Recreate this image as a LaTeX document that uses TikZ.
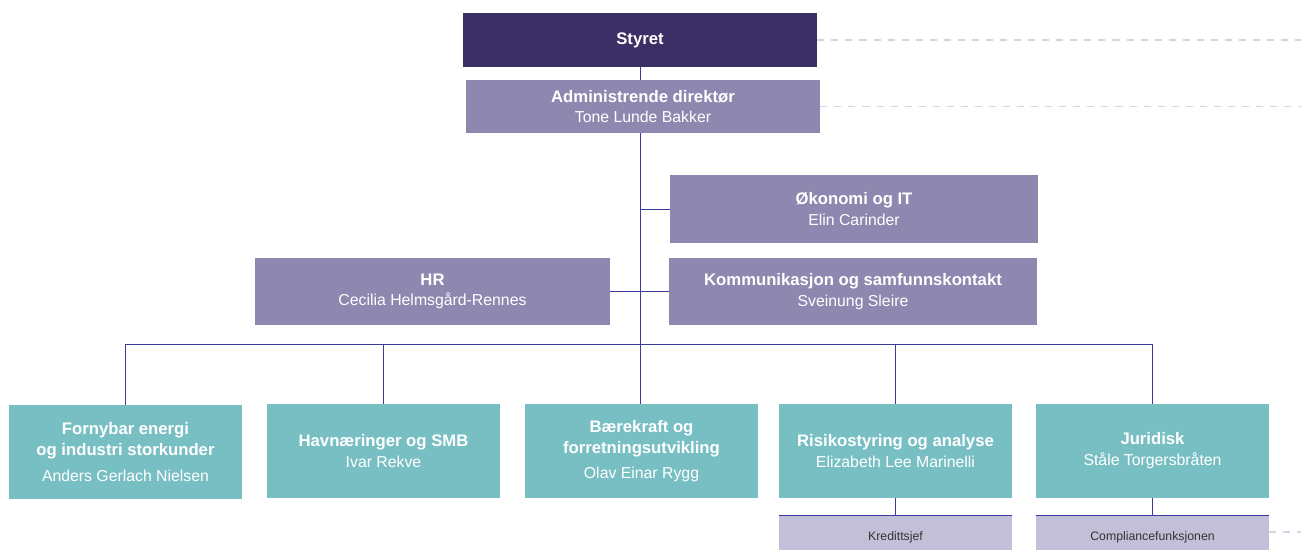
\documentclass[tikz,border=0pt]{standalone}
\usepackage{fontspec}
\setmainfont{Liberation Sans}

\definecolor{boardcol}{HTML}{3B2F66}
\definecolor{staffcol}{HTML}{8E87AF}
\definecolor{unitcol}{HTML}{78BFC4}
\definecolor{subcol}{HTML}{C4BFD9}
\definecolor{linecol}{HTML}{3B3B9C}
\definecolor{guidecol}{HTML}{D5D3E6}

\tikzset{
  board/.style={rectangle, fill=boardcol, text=white, inner sep=0pt, align=center,
    minimum width=7.08cm, minimum height=1.08cm, font=\fontsize{9.5}{11.5}\selectfont\bfseries},
  staff/.style={rectangle, fill=staffcol, text=white, inner sep=0pt, align=center,
    minimum height=1.34cm, font=\fontsize{9}{11.5}\selectfont},
  unit/.style={rectangle, fill=unitcol, text=white, inner sep=0pt, align=center,
    minimum width=4.66cm, minimum height=1.88cm, font=\fontsize{9}{12}\selectfont},
  subunit/.style={rectangle, fill=subcol, text=black!80, inner sep=0pt, align=center,
    minimum width=4.66cm, minimum height=0.86cm, font=\fontsize{7}{8}\selectfont},
  orgline/.style={draw=linecol, line width=0.55pt},
  guide/.style={draw=guidecol, line width=1.1pt, dash pattern=on 4pt off 4pt}
}

\begin{document}
\begin{tikzpicture}[x=0.02cm, y=-0.02cm]
  \useasboundingbox (0,0) rectangle (1301,549);

  % top of the chart
  \node (styret) [board] at (640, 40) {Styret};
  \node (admdir) [staff, minimum width=7.08cm, minimum height=1.06cm] at (643, 106.5) {\textbf{\fontsize{9.5}{11.5}\selectfont Administrende direktør}\\Tone Lunde Bakker};

  % staff functions
  \node (okonomi) [staff, minimum width=7.36cm, minimum height=1.36cm] at (854, 209) {\textbf{\fontsize{9.5}{11.5}\selectfont Økonomi og IT}\\Elin Carinder};
  \node (hr) [staff, minimum width=7.1cm] at (432.5, 291.5) {\textbf{\fontsize{9.5}{11.5}\selectfont HR}\\Cecilia Helmsgård-Rennes};
  \node (komm) [staff, minimum width=7.36cm] at (853, 291.5) {\textbf{\fontsize{9.5}{11.5}\selectfont Kommunikasjon og samfunnskontakt}\\Sveinung Sleire};

  % business units
  \node (fornybar) [unit] at (125.5, 452) {\textbf{\fontsize{9.5}{12}\selectfont Fornybar energi}\\\textbf{\fontsize{9.5}{12}\selectfont og industri storkunder}\\[3pt]Anders Gerlach Nielsen};
  \node (havn) [unit] at (383.5, 451) {\textbf{\fontsize{9.5}{12}\selectfont Havnæringer og SMB}\\Ivar Rekve};
  \node (baerekraft) [unit] at (641.5, 451) {\textbf{\fontsize{9.5}{12}\selectfont Bærekraft og}\\\textbf{\fontsize{9.5}{12}\selectfont forretningsutvikling}\\[2pt]Olav Einar Rygg};
  \node (risiko) [unit] at (895.5, 451) {\textbf{\fontsize{9.5}{12}\selectfont Risikostyring og analyse}\\Elizabeth Lee Marinelli};
  \node (juridisk) [unit] at (1152.5, 451) {\textbf{\fontsize{9.5}{12}\selectfont Juridisk}\\Ståle Torgersbråten};

  \node (kreditt) [subunit] at (895.5, 537.5) {Kredittsjef};
  \node (compliance) [subunit] at (1152.5, 537.5) {Compliancefunksjonen};

  \coordinate (bus) at (640, 344);
  \coordinate (edge) at (1301, 532);

  % connectors
  \draw[orgline] (styret.south) -- (styret.south |- admdir.north);
  \draw[orgline] (admdir.south -| bus) -- (baerekraft.north -| bus);
  \draw[orgline] (okonomi.west) -- (okonomi.west -| bus);
  \draw[orgline] (hr.east) -- (komm.west);
  \draw[orgline] (fornybar.north |- bus) -- (juridisk.north |- bus);
  \foreach \u in {fornybar, havn, risiko, juridisk}
    \draw[orgline] (\u.north |- bus) -- (\u.north);
  \draw[orgline] (risiko.south) -- (kreditt.north);
  \draw[orgline] (juridisk.south) -- (compliance.north);
  \draw[orgline] (kreditt.north west) -- (kreditt.north east);
  \draw[orgline] (compliance.north west) -- (compliance.north east);

  % dashed guides
  \draw[guide] (styret.east) -- (styret.east -| edge);
  \draw[guide] (admdir.east) -- (admdir.east -| edge);
  \draw[guide] (compliance.east |- edge) -- (edge);
\end{tikzpicture}
\end{document}
